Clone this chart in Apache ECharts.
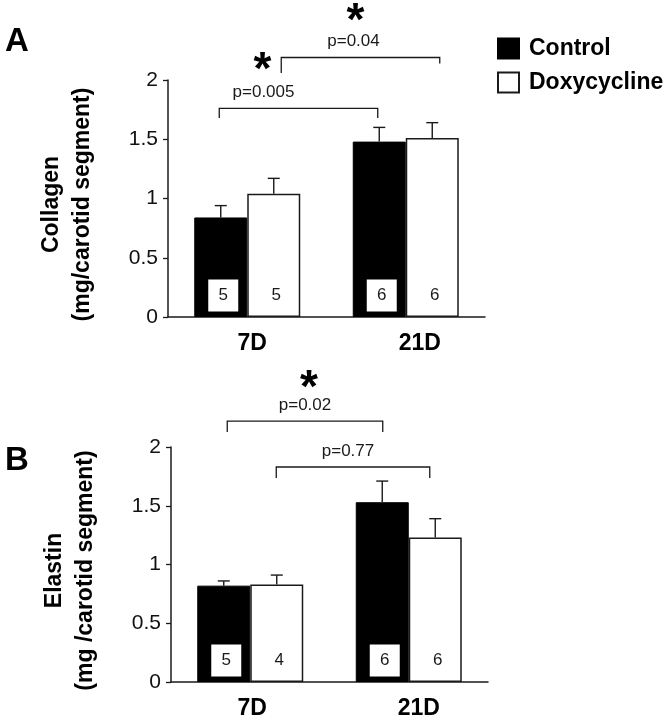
<!DOCTYPE html>
<html><head><meta charset="utf-8">
<script src="https://cdn.jsdelivr.net/npm/echarts@6/dist/echarts.min.js"></script>
<style>html,body{margin:0;padding:0;background:#fff}#c{width:666px;height:720px}</style>
</head><body><div id="c"></div>
<script>
// ---------- data ----------
const categories = ['7D', '21D'];
const seriesNames = ['Control', 'Doxycycline'];
const yTickValues = [0, 0.5, 1, 1.5, 2];

const collagenControl = [0.84, 1.48];
const collagenControlErr = [0.10, 0.12];
const collagenDoxy = [1.04, 1.51];
const collagenDoxyErr = [0.13, 0.13];
const collagenControlN = [5, 6];
const collagenDoxyN = [5, 6];

const elastinControl = [0.82, 1.53];
const elastinControlErr = [0.04, 0.18];
const elastinDoxy = [0.83, 1.23];
const elastinDoxyErr = [0.08, 0.16];
const elastinControlN = [5, 6];
const elastinDoxyN = [4, 6];

// comparisons: from/to = [category index, series index]; levels in axis units
const collagenBrackets = [
  { text: 'p=0.005', star: true, from: [0, 0], to: [1, 0], top: 1.76, dropL: 1.68, dropR: 1.68 },
  { text: 'p=0.04', star: true, from: [0, 1], to: [1, 1], top: 2.19, dropL: 2.06, dropR: 2.14 }
];
const elastinBrackets = [
  { text: 'p=0.02', star: true, from: [0, 0], to: [1, 0], top: 2.22, dropL: 2.127, dropR: 2.127 },
  { text: 'p=0.77', star: false, from: [0, 1], to: [1, 1], top: 1.83, dropL: 1.737, dropR: 1.737 }
];

// ---------- layout / style ----------
const FONT = '"Liberation Sans", Arial, Helvetica, sans-serif';
const BAR_W = 53;
const INK = '#1a1a1a';
const collagenBracketLayout = [
  { dxL: -1.5, dxR: -1.5, labelDx: -35, starDx: -1, starDy: -31 },
  { dxL: 7.5, dxR: 7.5, labelDx: -7, starDx: 2, starDy: -29 }
];
const elastinBracketLayout = [
  { dxL: 3.5, dxR: 0.5, labelDx: 0, starDx: 4, starDy: -26 },
  { dxL: -0.5, dxR: -5.5, labelDx: -5, starDx: 0, starDy: -26 }
];

function errRender(side) {
  return function (params, api) {
    const c = api.value(0), v = api.value(1), e = api.value(2);
    const p0 = api.coord([c, v]);
    const x = p0[0] + side * BAR_W / 2;
    const y0 = p0[1], y1 = api.coord([c, v + e])[1];
    const st = { stroke: INK, lineWidth: 1.4 };
    return { type: 'group', children: [
      { type: 'line', shape: { x1: x, y1: y0, x2: x, y2: y1 }, style: st },
      { type: 'line', shape: { x1: x - 6, y1: y1, x2: x + 6, y2: y1 }, style: st }
    ] };
  };
}
function nRender(side, boxed) {
  return function (params, api) {
    const c = api.value(0), n = api.value(1);
    const p0 = api.coord([c, 0]);
    const x = p0[0] + side * BAR_W / 2 + 2.5;
    const cy = p0[1] - 5.5 - 16;
    const ch = [];
    if (boxed) ch.push({ type: 'rect', shape: { x: x - 15, y: cy - 16, width: 30, height: 32 }, style: { fill: '#fff' } });
    ch.push({ type: 'text', style: { text: String(n), x: x, y: cy, align: 'center', verticalAlign: 'middle',
      fontSize: 17, fontFamily: FONT, fill: INK } });
    return { type: 'group', children: ch };
  };
}
function bracketRender(brackets, layout) {
  return function (params, api) {
    const b = brackets[params.dataIndex], L = layout[params.dataIndex];
    const half = BAR_W / 2;
    const xL = api.coord([b.from[0], 0])[0] + (b.from[1] === 0 ? -half : half) + L.dxL;
    const xR = api.coord([b.to[0], 0])[0] + (b.to[1] === 0 ? -half : half) + L.dxR;
    const yT = api.coord([0, b.top])[1], yL = api.coord([0, b.dropL])[1], yR = api.coord([0, b.dropR])[1];
    const cx = (xL + xR) / 2 + L.labelDx, ly = yT - 16;
    const ch = [
      { type: 'polyline', shape: { points: [[xL, yL], [xL, yT], [xR, yT], [xR, yR]] },
        style: { stroke: INK, lineWidth: 1.3, fill: 'none' } },
      { type: 'text', style: { text: b.text, x: cx, y: ly, align: 'center', verticalAlign: 'middle',
        fontSize: 17, fontFamily: FONT, fill: INK } }
    ];
    if (b.star) ch.push({ type: 'text', style: { text: '*', x: cx + L.starDx, y: ly + L.starDy + 10, align: 'center',
      verticalAlign: 'middle', fontSize: 46, fontWeight: 'bold', fontFamily: FONT, fill: '#000' } });
    return { type: 'group', children: ch };
  };
}

function xAxisFor(gi, shifts) {
  return {
    type: 'category', gridIndex: gi, data: categories,
    axisTick: { show: false },
    axisLine: { lineStyle: { color: INK, width: 1.5 } },
    axisLabel: {
      margin: 15, interval: 0,
      formatter: (v, i) => '{c' + i + '|' + v + '}',
      rich: {
        c0: { fontSize: 23, fontWeight: 'bold', fontFamily: FONT, color: '#000', padding: [0, 0, 0, shifts[0] * 2] },
        c1: { fontSize: 23, fontWeight: 'bold', fontFamily: FONT, color: '#000', padding: [0, 0, 0, shifts[1] * 2] }
      }
    }
  };
}
function yAxisFor(gi, name) {
  return {
    type: 'value', gridIndex: gi, min: yTickValues[0], max: yTickValues[yTickValues.length - 1], interval: 0.5,
    splitLine: { show: false },
    axisLine: { show: true, lineStyle: { color: INK, width: 1.5 } },
    axisTick: { show: true, length: 5, lineStyle: { color: INK, width: 1.3 } },
    axisLabel: { margin: 10, fontSize: 21, fontFamily: FONT, color: '#111' },
    name: name, nameLocation: 'middle', nameRotate: 90, nameGap: 70,
    nameTextStyle: { fontSize: 23, fontWeight: 'bold', fontFamily: FONT, color: '#000', lineHeight: 31, padding: [0, 12, 0, 0] }
  };
}
function barSeries(gi, name, values, ctrl) {
  return {
    type: 'bar', name: name, xAxisIndex: gi, yAxisIndex: gi, data: values,
    barWidth: BAR_W, barGap: '0%',
    itemStyle: ctrl ? { color: '#000', borderColor: '#000', borderWidth: 1 } : { color: '#fff', borderColor: INK, borderWidth: 1.5 }
  };
}
function panelSeries(gi, ctrl, ctrlErr, doxy, doxyErr, ctrlN, doxyN, brackets, layout) {
  return [
    barSeries(gi, seriesNames[0], ctrl, true),
    barSeries(gi, seriesNames[1], doxy, false),
    { type: 'custom', xAxisIndex: gi, yAxisIndex: gi, renderItem: errRender(-1), encode: { x: 0, y: 1 },
      data: ctrl.map((v, i) => [i, v, ctrlErr[i]]), z: 5, silent: true },
    { type: 'custom', xAxisIndex: gi, yAxisIndex: gi, renderItem: errRender(1), encode: { x: 0, y: 1 },
      data: doxy.map((v, i) => [i, v, doxyErr[i]]), z: 5, silent: true },
    { type: 'custom', xAxisIndex: gi, yAxisIndex: gi, renderItem: nRender(-1, true), encode: { x: 0, y: 1 },
      data: ctrlN.map((n, i) => [i, n]), z: 6, silent: true },
    { type: 'custom', xAxisIndex: gi, yAxisIndex: gi, renderItem: nRender(1, false), encode: { x: 0, y: 1 },
      data: doxyN.map((n, i) => [i, n]), z: 6, silent: true },
    { type: 'custom', xAxisIndex: gi, yAxisIndex: gi, renderItem: bracketRender(brackets, layout), clip: false,
      encode: { x: 0, y: 1 }, data: brackets.map((b, i) => [0, 0]), z: 6, silent: true }
  ];
}

const chart = echarts.init(document.getElementById('c'), null, { renderer: 'canvas' });
chart.setOption({
  animation: false,
  backgroundColor: '#fff',
  title: [
    { text: 'A', left: 5, top: 25, textStyle: { fontSize: 33, fontWeight: 'bold', fontFamily: FONT, color: '#000' }, padding: 0 },
    { text: 'B', left: 5, top: 444, textStyle: { fontSize: 33, fontWeight: 'bold', fontFamily: FONT, color: '#000' }, padding: 0 }
  ],
  legend: {
    data: seriesNames, orient: 'vertical', left: 497, top: 37, padding: 0,
    itemWidth: 21, itemHeight: 20, itemGap: 11, icon: 'rect', selectedMode: false,
    textStyle: { fontSize: 23, fontWeight: 'bold', fontFamily: FONT, color: '#000', padding: [0, 0, 0, 5] }
  },
  grid: [
    { left: 168, top: 80, width: 317, height: 237 },
    { left: 171, top: 447, width: 317, height: 236 }
  ],
  xAxis: [xAxisFor(0, [5, 14]), xAxisFor(1, [2, 10])],
  yAxis: [yAxisFor(0, 'Collagen\n(mg/carotid segment)'), yAxisFor(1, 'Elastin\n(mg /carotid segment)')],
  series: [].concat(
    panelSeries(0, collagenControl, collagenControlErr, collagenDoxy, collagenDoxyErr, collagenControlN, collagenDoxyN, collagenBrackets, collagenBracketLayout),
    panelSeries(1, elastinControl, elastinControlErr, elastinDoxy, elastinDoxyErr, elastinControlN, elastinDoxyN, elastinBrackets, elastinBracketLayout)
  )
});
</script>
</body></html>
